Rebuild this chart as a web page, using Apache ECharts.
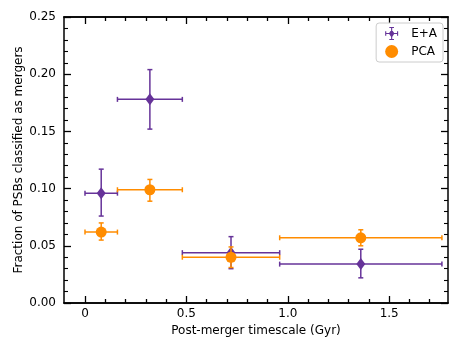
<!DOCTYPE html>
<html>
<head>
<meta charset="utf-8">
<script src="https://cdn.jsdelivr.net/npm/echarts@6/dist/echarts.min.js"></script>
<style>
html, body { margin: 0; padding: 0; background: #fff; }
#chart { width: 463px; height: 347px; }
</style>
</head>
<body>
<div id="chart"></div>
<script>
// E+A sample (purple diamonds)
const eaX = [0.08, 0.32, 0.72, 1.36]
const eaY = [0.096, 0.178, 0.044, 0.034]
const eaXLo = [0.0, 0.16, 0.48, 0.96]
const eaXHi = [0.16, 0.48, 0.96, 1.76]
const eaYLo = [0.076, 0.152, 0.030, 0.022]
const eaYHi = [0.117, 0.204, 0.058, 0.047]

// PCA sample (orange circles)
const pcaX = [0.08, 0.32, 0.72, 1.36]
const pcaY = [0.062, 0.099, 0.040, 0.057]
const pcaXLo = [0.0, 0.16, 0.48, 0.96]
const pcaXHi = [0.16, 0.48, 0.96, 1.76]
const pcaYLo = [0.055, 0.089, 0.031, 0.050]
const pcaYHi = [0.070, 0.108, 0.049, 0.064]

const xMajor = [0, 0.5, 1.0, 1.5]
const xMinor = [0.1, 0.2, 0.3, 0.4, 0.6, 0.7, 0.8, 0.9, 1.1, 1.2, 1.3, 1.4, 1.6, 1.7]

const purple = '#663399'
const orange = '#ff8c00'
const font = 'DejaVu Sans'

function rows(x, y, xlo, xhi, ylo, yhi) {
  return x.map((v, i) => [v, y[i], xlo[i], xhi[i], ylo[i], yhi[i]])
}

function errorBars(color) {
  return function(params, api) {
    const c = api.coord([api.value(0), api.value(1)])
    const l = api.coord([api.value(2), api.value(1)])
    const r = api.coord([api.value(3), api.value(1)])
    const t = api.coord([api.value(0), api.value(5)])
    const b = api.coord([api.value(0), api.value(4)])
    const cap = 2.5
    const style = { stroke: color, lineWidth: 1.5 }
    const seg = (x1, y1, x2, y2) => ({ type: 'line', shape: { x1, y1, x2, y2 }, style })
    return {
      type: 'group',
      children: [
        seg(l[0], c[1], r[0], c[1]),
        seg(c[0], t[1], c[0], b[1]),
        seg(l[0], c[1] - cap, l[0], c[1] + cap),
        seg(r[0], c[1] - cap, r[0], c[1] + cap),
        seg(c[0] - cap, t[1], c[0] + cap, t[1]),
        seg(c[0] - cap, b[1], c[0] + cap, b[1])
      ]
    }
  }
}

const eaIcon = 'path://M0,6.4 L14,6.4 L14,7.6 L0,7.6 Z M6.4,0 L7.6,0 L7.6,14 L6.4,14 Z M0,4.5 L1.2,4.5 L1.2,9.5 L0,9.5 Z M12.8,4.5 L14,4.5 L14,9.5 L12.8,9.5 Z M4.5,0 L9.5,0 L9.5,1.2 L4.5,1.2 Z M4.5,12.8 L9.5,12.8 L9.5,14 L4.5,14 Z M7,2.5 L10,7 L7,11.5 L4,7 Z'

const xMin = -0.1035
const xMax = 1.79
const axisLine = { show: true, onZero: false, lineStyle: { color: '#000', width: 1.5 } }

function xAx(position, ticks, len, labels) {
  return {
    type: 'value', position, min: xMin, max: xMax,
    axisLine,
    axisTick: { show: true, inside: true, length: len, customValues: ticks, lineStyle: { color: '#000', width: 1.3 } },
    axisLabel: labels
      ? { show: true, customValues: ticks, color: '#000', fontFamily: font, fontSize: 12, margin: 5, formatter: v => v === 0 ? '0' : v.toFixed(1) }
      : { show: false },
    splitLine: { show: false }
  }
}

function yAx(position, labels) {
  return {
    type: 'value', position, min: 0, max: 0.25, interval: 0.05,
    axisLine,
    axisTick: { show: true, inside: true, length: 7, lineStyle: { color: '#000', width: 1.3 } },
    minorTick: { show: true, splitNumber: 5, length: 4, lineStyle: { color: '#000', width: 1.1 } },
    axisLabel: labels
      ? { show: true, color: '#000', fontFamily: font, fontSize: 12, margin: 8, formatter: v => v.toFixed(2) }
      : { show: false },
    splitLine: { show: false },
    minorSplitLine: { show: false }
  }
}

const chart = echarts.init(document.getElementById('chart'))
const xs = [
  xAx('bottom', xMajor, 7, true),
  xAx('bottom', xMinor, 4, false),
  xAx('top', xMajor, 7, false),
  xAx('top', xMinor, 4, false)
]
xs[0].name = 'Post-merger timescale (Gyr)'
xs[0].nameLocation = 'middle'
xs[0].nameGap = 19
xs[0].nameTextStyle = { color: '#000', fontFamily: font, fontSize: 12 }
const ys = [yAx('left', true), yAx('right', false)]
ys[0].name = 'Fraction of PSBs classified as mergers'
ys[0].nameLocation = 'middle'
ys[0].nameGap = 39
ys[0].nameMoveOverlap = false
ys[0].nameTextStyle = { color: '#000', fontFamily: font, fontSize: 12 }

chart.setOption({
  animation: false,
  grid: { left: 64, right: 15, top: 17, bottom: 44, containLabel: false },
  legend: {
    orient: 'vertical',
    right: 20,
    top: 23,
    padding: [4, 6, 4, 9],
    itemGap: 5,
    itemWidth: 13,
    itemHeight: 13,
    borderColor: '#ccc',
    borderWidth: 1,
    borderRadius: 3,
    backgroundColor: '#fff',
    textStyle: { color: '#000', fontFamily: font, fontSize: 12, padding: [0, 0, 0, 8] },
    data: [{ name: 'E+A', icon: eaIcon }, { name: 'PCA', icon: 'circle' }]
  },
  xAxis: xs,
  yAxis: ys,
  series: [
    {
      name: 'E+A err', type: 'custom', silent: true,
      renderItem: errorBars(purple),
      encode: { x: 0, y: 1 },
      data: rows(eaX, eaY, eaXLo, eaXHi, eaYLo, eaYHi),
      z: 2
    },
    {
      name: 'E+A', type: 'scatter', symbol: 'diamond', symbolSize: [9, 12],
      itemStyle: { color: purple, opacity: 1 },
      data: eaX.map((v, i) => [v, eaY[i]]),
      z: 3
    },
    {
      name: 'PCA err', type: 'custom', silent: true,
      renderItem: errorBars(orange),
      encode: { x: 0, y: 1 },
      data: rows(pcaX, pcaY, pcaXLo, pcaXHi, pcaYLo, pcaYHi),
      z: 4
    },
    {
      name: 'PCA', type: 'scatter', symbol: 'circle', symbolSize: 11,
      itemStyle: { color: orange, opacity: 1 },
      data: pcaX.map((v, i) => [v, pcaY[i]]),
      z: 5
    }
  ]
})
</script>
</body>
</html>
